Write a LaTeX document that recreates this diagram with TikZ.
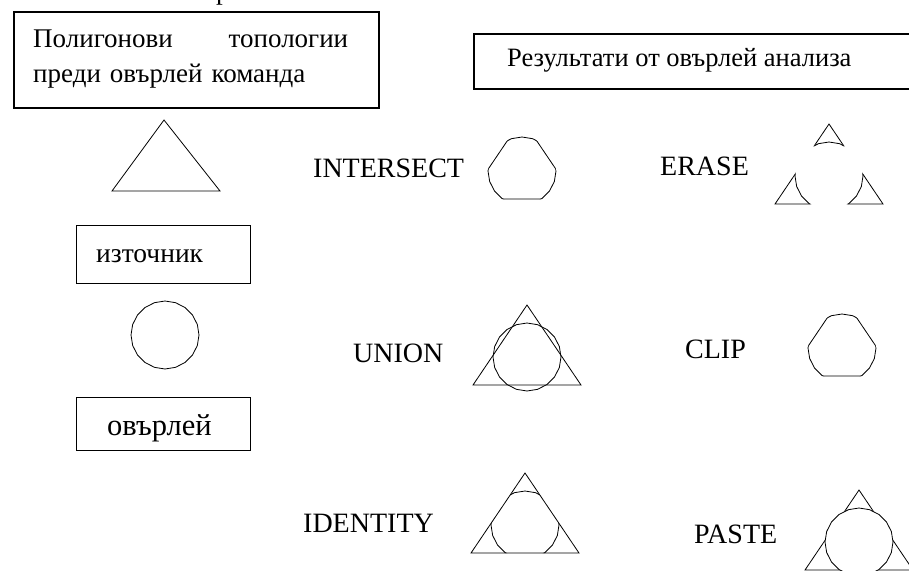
\documentclass[tikz,border=0pt]{standalone}
\usepackage{fontspec}
\setmainfont{Liberation Serif}
\begin{document}
\begin{tikzpicture}[x=1pt,y=-1pt,
  box/.style={draw, line width=1.5pt, inner sep=0pt, anchor=north west},
  thinbox/.style={draw, line width=1.2pt, inner sep=0pt, anchor=north west},
  shp/.style={line width=0.8pt, line join=miter},
  txt/.style={anchor=base west, inner sep=0pt},
  lbl/.style={anchor=base west, inner sep=0pt, font=\fontsize{28}{34}\selectfont},
  tri/.style 2 args={insert path={(#1-54,#2+28) -- (#1,#2-52) -- (#1+54,#2+28) -- cycle}},
  circ/.style 2 args={insert path={plot[samples=21,domain=90:450,variable=\t] ({#1+34*cos(\t)},{#2+34*sin(\t)}) -- cycle}},
]
\useasboundingbox (0,0) rectangle (909,570);

% fragment of a letter cut by the top edge
\node[txt, font=\fontsize{27}{32}\selectfont] (topfrag) at (216,-1) {р};

% header boxes
\node[box, minimum width=365pt, minimum height=96pt] (srcbox) at (13,11) {};
\node[txt, text width=315pt, align=left, font=\fontsize{27}{35}\selectfont] (srctext) at (33,47)
  {Полигонови\hskip 0pt plus 1filll топологии\\преди овърлей команда};

\node[box, minimum width=450pt, minimum height=55pt] (resbox) at (473,33) {};
\node[txt, font=\fontsize{26.5}{31}\selectfont] (restext) at (507,66) {Результати от овърлей анализа};

% source / overlay boxes
\node[thinbox, minimum width=174pt, minimum height=58pt] (inbox) at (76,225) {};
\node[txt, font=\fontsize{27.5}{32}\selectfont] (intext) at (96,262) {източник};
\node[thinbox, minimum width=174pt, minimum height=53pt] (ovbox) at (76,397) {};
\node[txt, font=\fontsize{30.5}{36}\selectfont] (ovtext) at (107,435) {овърлей};

% source triangle and overlay circle
\draw[shp] (164,120) -- (220,191) -- (112,191) -- cycle;
\draw[shp, circ={165}{335}];

% labels
\node[lbl] (lint) at (313,177) {INTERSECT};
\node[lbl] (lera) at (660,175) {ERASE};
\node[lbl] (luni) at (353,362) {UNION};
\node[lbl] (lcli) at (685,358) {CLIP};
\node[lbl] (lide) at (303,532) {IDENTITY};
\node[lbl] (lpas) at (694,543) {PASTE};

% INTERSECT
\begin{scope}\clip[tri={522}{171}]; \draw[shp, circ={522}{171}];\end{scope}
\begin{scope}\clip[circ={522}{171}]; \draw[shp, tri={522}{171}];\end{scope}

% ERASE
\draw[shp, tri={829}{176}];
\fill[white, circ={829}{176}];
\begin{scope}\clip[tri={829}{176}]; \draw[shp, circ={829}{176}];\end{scope}

% UNION
\draw[shp, tri={527}{357}];
\draw[shp, circ={527}{357}];

% CLIP
\begin{scope}\clip[tri={842}{348}]; \draw[shp, circ={842}{348}];\end{scope}
\begin{scope}\clip[circ={842}{348}]; \draw[shp, tri={842}{348}];\end{scope}

% IDENTITY
\draw[shp, tri={525}{525}];
\begin{scope}\clip[tri={525}{525}]; \draw[shp, circ={525}{525}];\end{scope}

% PASTE
\draw[shp, tri={859}{542}];
\fill[white, circ={859}{542}];
\draw[shp, circ={859}{542}];
\end{tikzpicture}
\end{document}
